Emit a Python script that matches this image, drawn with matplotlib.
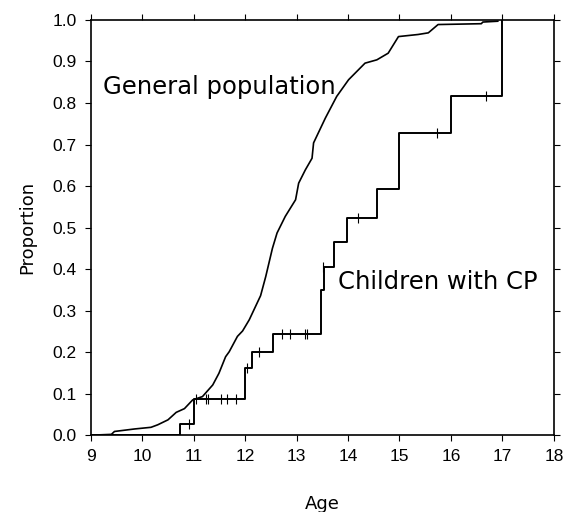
import numpy as np
import matplotlib
matplotlib.use("Agg")
import matplotlib.pyplot as plt

# general population curve
gen_age = [9.0, 9.40, 9.46, 9.85, 10.01, 10.17, 10.30, 10.50, 10.66, 10.82, 10.98,
           11.17, 11.37, 11.49, 11.62, 11.69, 11.85, 11.95, 12.08, 12.30, 12.40,
           12.53, 12.62, 12.78, 12.98, 13.04, 13.17, 13.30, 13.33, 13.56, 13.78,
           14.01, 14.33, 14.56, 14.78, 14.98, 15.36, 15.56, 15.75, 16.59, 16.62,
           16.91]
gen_prop = [0.0, 0.002, 0.009, 0.015, 0.017, 0.019, 0.025, 0.037, 0.055, 0.064, 0.085,
            0.093, 0.121, 0.149, 0.189, 0.201, 0.238, 0.251, 0.278, 0.336, 0.382,
            0.450, 0.487, 0.527, 0.567, 0.607, 0.639, 0.667, 0.704, 0.764, 0.816,
            0.856, 0.896, 0.904, 0.920, 0.960, 0.965, 0.969, 0.989, 0.991, 0.995,
            0.997]

# children with CP, Kaplan-Meier type steps
cp_age = [9.0, 10.74, 11.0, 12.0, 12.14, 12.54, 13.48, 13.54, 13.72, 13.98, 14.57,
          15.0, 16.0, 17.0]
cp_prop = [0.0, 0.026, 0.087, 0.161, 0.201, 0.244, 0.350, 0.405, 0.465, 0.524, 0.593,
           0.728, 0.818, 1.0]

# censored observations
cens_age = [10.91, 11.05, 11.23, 11.27, 11.53, 11.65, 11.82, 12.03, 12.27, 12.72,
            12.88, 13.17, 13.20, 13.52, 14.2, 15.72, 16.69]
cens_prop = [0.026, 0.087, 0.087, 0.087, 0.087, 0.087, 0.087, 0.161, 0.201, 0.244,
             0.244, 0.244, 0.244, 0.405, 0.524, 0.728, 0.818]

plt.rcParams['font.family'] = ['DejaVu Sans']

fig = plt.figure(figsize=(5.64, 5.12), dpi=100)
ax = fig.add_axes([0.161, 0.150, 0.821, 0.811])

ax.plot(gen_age, gen_prop, color='black', lw=1.2)
ax.step(cp_age, cp_prop, where='post', color='black', lw=1.4)
ax.plot(cens_age, cens_prop, ls='none', marker='|', ms=7, mew=0.8, color='black')

ax.text(9.23, 0.838, 'General population', fontsize=17.5, va='center', ha='left')
ax.text(13.80, 0.369, 'Children with CP', fontsize=17.5, va='center', ha='left')

ax.set_xlim(9, 18)
ax.set_ylim(0, 1.0)
ax.set_xticks(np.arange(9, 19, 1))
ax.set_yticks(np.arange(0, 1.01, 0.1))
ax.set_yticklabels(['%.1f' % v for v in np.arange(0, 1.01, 0.1)])
ax.tick_params(direction='out', length=4, width=0.8, labelsize=12.5,
               top=True, right=True, pad=6)
for lab in ax.get_xticklabels() + ax.get_yticklabels():
    lab.set_family(['Liberation Sans', 'DejaVu Sans'])
for s in ax.spines.values():
    s.set_linewidth(1.2)

ax.set_xlabel('Age', fontsize=13, labelpad=22)
ax.set_ylabel('Proportion', fontsize=13, labelpad=12)

fig.savefig('out.png', dpi=100)
